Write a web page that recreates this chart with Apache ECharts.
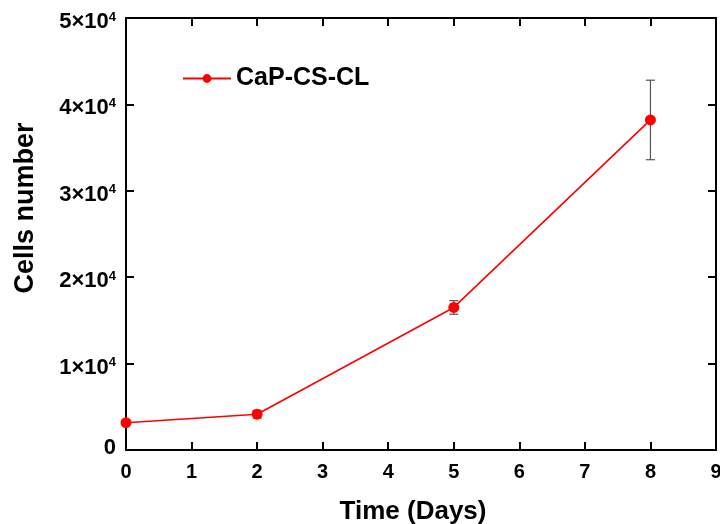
<!DOCTYPE html>
<html>
<head>
<meta charset="utf-8">
<script src="https://cdn.jsdelivr.net/npm/echarts@6/dist/echarts.min.js"></script>
<style>
  html, body { margin: 0; padding: 0; background: #fff; }
  #chart { width: 720px; height: 524px; }
</style>
</head>
<body>
<div id="chart"></div>
<script>
var days = [0, 2, 5, 8]
var cells = [3160, 4140, 16500, 38200]
var cellsErr = [200, 450, 790, 4600]
var xTicks = [0, 1, 2, 3, 4, 5, 6, 7, 8, 9]
var yTicks = [0, 10000, 20000, 30000, 40000, 50000]

var chart = echarts.init(document.getElementById('chart'))

var lineData = days.map(function(d, i) { return [d, cells[i]] })
var errData = days.map(function(d, i) { return [d, cells[i] - cellsErr[i], cells[i] + cellsErr[i]] })

var sans = '"Liberation Sans", Arial, sans-serif'

function yLabel(v) {
  if (v === 0) return '{z|0}'
  return '{a|' + (v / 10000) + '×10}{s|4}'
}

// mirrored top / right axes: line + inward ticks only
function mirrorAxis(extra) {
  return Object.assign({
    type: 'value',
    axisLine: { show: true, onZero: false, lineStyle: { color: '#000', width: 2 } },
    axisTick: { show: true, inside: true, length: 8, lineStyle: { color: '#000', width: 2 } },
    axisLabel: { show: false },
    splitLine: { show: false }
  }, extra)
}

chart.setOption({
  animation: false,
  grid: { left: 126, right: 4, top: 18, bottom: 74, outerBoundsMode: 'none', containLabel: false },
  legend: {
    left: 182, top: 66, padding: 0,
    itemWidth: 48, itemHeight: 11,
    itemGap: 8,
    textStyle: { fontFamily: sans, fontWeight: 'bold', fontSize: 25, color: '#000' },
    data: ['CaP-CS-CL']
  },
  graphic: [{
    type: 'text',
    x: 26, y: 208,
    rotation: Math.PI / 2,
    style: {
      text: 'Cells number',
      fontFamily: sans, fontWeight: 'bold', fontSize: 27, fill: '#000',
      align: 'center', verticalAlign: 'middle'
    }
  }, {
    type: 'text',
    x: 413, y: 512,
    style: {
      text: 'Time (Days)',
      fontFamily: sans, fontWeight: 'bold', fontSize: 26, fill: '#000',
      align: 'center', verticalAlign: 'middle'
    }
  }],
  xAxis: [{
    type: 'value', min: 0, max: 9, interval: 1,
    axisLine: { onZero: false, lineStyle: { color: '#000', width: 2 } },
    axisTick: { inside: true, length: 8, lineStyle: { color: '#000', width: 2 } },
    axisLabel: { fontFamily: sans, fontWeight: 'bold', fontSize: 20, color: '#000', margin: 12 },
    splitLine: { show: false }
  }, mirrorAxis({ min: 0, max: 9, interval: 1, position: 'top' })],
  yAxis: [{
    type: 'value', min: 0, max: 50000, interval: 10000,
    axisLine: { onZero: false, lineStyle: { color: '#000', width: 2 } },
    axisTick: { inside: true, length: 8, lineStyle: { color: '#000', width: 2 } },
    axisLabel: {
      margin: 10,
      padding: [8, 0, 0, 0],
      fontFamily: sans, fontWeight: 'bold', fontSize: 22, color: '#000',
      formatter: yLabel,
      rich: {
        a: { fontFamily: sans, fontWeight: 'bold', fontSize: 22, color: '#000' },
        s: { fontFamily: sans, fontWeight: 'bold', fontSize: 13, color: '#000', verticalAlign: 'top', padding: [0, 0, 10, 0] },
        z: { fontFamily: sans, fontWeight: 'bold', fontSize: 22, color: '#000', padding: [0, 0, 12, 0] }
      }
    },
    splitLine: { show: false }
  }, mirrorAxis({ min: 0, max: 50000, interval: 10000, position: 'right' })],
  series: [{
    type: 'custom',
    name: 'err',
    xAxisIndex: 0, yAxisIndex: 0,
    z: 1,
    renderItem: function(params, api) {
      var x = api.value(0)
      var lo = api.coord([x, api.value(1)])
      var hi = api.coord([x, api.value(2)])
      var cap = 4.5
      var style = { stroke: '#555', lineWidth: 1.2 }
      return {
        type: 'group',
        children: [
          { type: 'line', shape: { x1: lo[0], y1: lo[1], x2: hi[0], y2: hi[1] }, style: style },
          { type: 'line', shape: { x1: lo[0] - cap, y1: lo[1], x2: lo[0] + cap, y2: lo[1] }, style: style },
          { type: 'line', shape: { x1: hi[0] - cap, y1: hi[1], x2: hi[0] + cap, y2: hi[1] }, style: style }
        ]
      }
    },
    encode: { x: 0, y: [1, 2] },
    data: errData
  }, {
    type: 'line',
    name: 'CaP-CS-CL',
    xAxisIndex: 0, yAxisIndex: 0,
    z: 3,
    symbol: 'circle',
    symbolSize: 11,
    showAllSymbol: true,
    itemStyle: { color: '#ff0000' },
    lineStyle: { color: '#ff0000', width: 1.6 },
    data: lineData
  }]
})
</script>
</body>
</html>
